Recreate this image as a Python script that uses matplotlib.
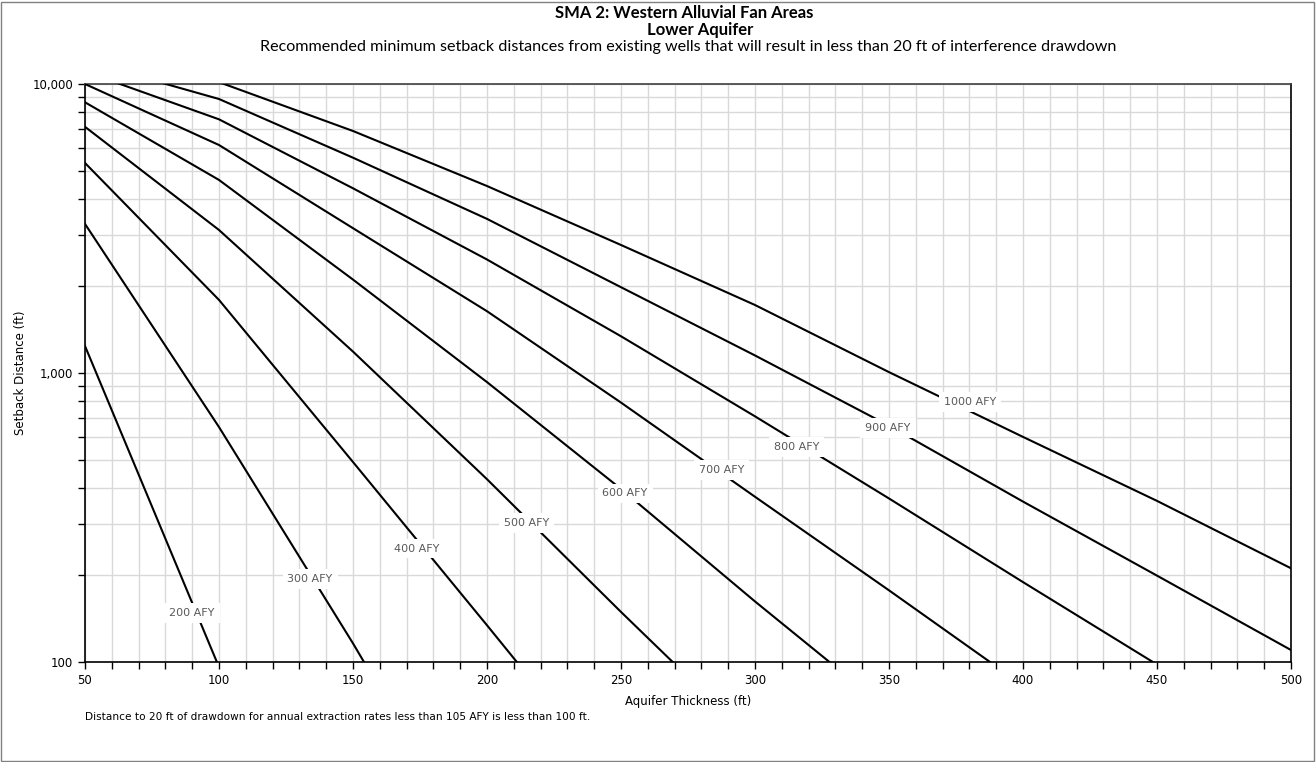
import matplotlib
matplotlib.use("Agg")
import matplotlib.pyplot as plt
from matplotlib.ticker import FuncFormatter, MultipleLocator, LogLocator, NullFormatter
from matplotlib.patches import Rectangle

# ---- data ----
thickness = [50, 100, 150, 200, 250, 300, 350, 400, 450, 500]
afy_200 = [1240, 96]
afy_300 = [3280, 650, 116, 19]
afy_400 = [5330, 1790, 492, 134, 36]
afy_500 = [7110, 3125, 1186, 429, 149, 53]
afy_600 = [8645, 4656, 2105, 930, 397, 162, 68]
afy_700 = [10000, 6150, 3170, 1636, 790, 373, 177, 83]
afy_800 = [11050, 7547, 4356, 2470, 1340, 708, 368, 189, 98]
afy_900 = [12000, 8873, 5559, 3414, 1981, 1150, 657, 359, 199, 110]
afy_1000 = [None, 10150, 6877, 4436, 2773, 1719, 1007, 601, 361, 211]
series_names = ["200 AFY", "300 AFY", "400 AFY", "500 AFY", "600 AFY",
                "700 AFY", "800 AFY", "900 AFY", "1000 AFY"]
series_vals = [afy_200, afy_300, afy_400, afy_500, afy_600,
               afy_700, afy_800, afy_900, afy_1000]
label_x = [89.9, 134.0, 173.7, 214.8, 251.5, 287.6, 315.6, 349.6, 380.2]
label_y = [148, 194, 247, 302, 383, 462, 556, 645, 796]
x_ticks = [50, 100, 150, 200, 250, 300, 350, 400, 450, 500]
y_ticks = [100, 1000, 10000]

W, H = 1316, 762
fig = plt.figure(figsize=(W / 100, H / 100), dpi=100)
fig.patch.set_facecolor("white")
ax = fig.add_axes([85 / W, 1 - 662 / H, (1291 - 85) / W, (662 - 84) / H])

for name, vals in zip(series_names, series_vals):
    xs = [x for x, v in zip(thickness, vals) if v is not None]
    ys = [v for v in vals if v is not None]
    ax.plot(xs, ys, color="black", lw=1.5, zorder=3, solid_joinstyle="miter")

for name, lx, ly in zip(series_names, label_x, label_y):
    ax.text(lx, ly, name, ha="center", va="center", fontsize=8, color="#595959",
            family="DejaVu Sans", zorder=4,
            bbox=dict(facecolor="white", edgecolor="none", pad=3.5))

ax.set_yscale("log")
ax.set_xlim(50, 500)
ax.set_ylim(100, 10000)
ax.set_xticks(x_ticks)
ax.xaxis.set_minor_locator(MultipleLocator(10))
ax.set_yticks(y_ticks)
ax.yaxis.set_minor_locator(LogLocator(base=10, subs=range(2, 10)))
ax.yaxis.set_minor_formatter(NullFormatter())
ax.yaxis.set_major_formatter(FuncFormatter(lambda v, p: f"{v:,.0f}"))
ax.grid(which="both", color="#d9d9d9", lw=1.0, zorder=0)
ax.set_axisbelow(True)
ax.tick_params(which="both", direction="out", color="black", labelsize=8.5, width=1)
ax.tick_params(which="major", length=5)
ax.tick_params(which="minor", length=5)
for s in ["left", "bottom", "right"]:
    ax.spines[s].set_color("black")
    ax.spines[s].set_linewidth(1.2)
ax.spines["top"].set_color("#404040")
ax.spines["top"].set_linewidth(1.2)

ax.set_xlabel("Aquifer Thickness (ft)", fontsize=8.5, labelpad=6)
ax.set_ylabel("Setback Distance (ft)", fontsize=8.5, labelpad=4)

fig.text(684 / W, 1 - 13 / H, "SMA 2: Western Alluvial Fan Areas", ha="center", va="center",
         fontsize=12, fontweight="bold", family="Lato")
fig.text(700 / W, 1 - 30 / H, "Lower Aquifer", ha="center", va="center",
         fontsize=12, fontweight="bold", family="Lato")
fig.text(688 / W, 1 - 47 / H,
         "Recommended minimum setback distances from existing wells that will result in less than 20 ft of interference drawdown",
         ha="center", va="center", fontsize=11.6, family="Lato")
fig.text(85 / W, 1 - 717 / H,
         "Distance to 20 ft of drawdown for annual extraction rates less than 105 AFY is less than 100 ft.",
         ha="left", va="center", fontsize=7.6, family="DejaVu Sans")

fig.patches.append(Rectangle((1 / W, 1 / H), (W - 3) / W, (H - 3) / H, transform=fig.transFigure,
                             fill=False, edgecolor="#808080", lw=1.0))

fig.savefig("out.png", dpi=100)
